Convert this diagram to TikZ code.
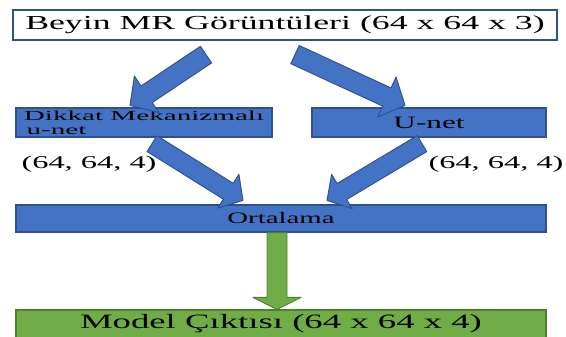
\documentclass[tikz,border=0pt]{standalone}
\usepackage{fontspec}
\setmainfont{Liberation Serif}
\usepackage{graphicx}
\usetikzlibrary{calc}

\definecolor{boxblue}{HTML}{4472C4}
\definecolor{edgeblue}{HTML}{2F528F}
\definecolor{boxgreen}{HTML}{70AD47}
\definecolor{edgegreen}{HTML}{507E32}

% wide text, as in the picture
\newcommand{\wtext}[2]{\fontsize{#1}{#1}\selectfont\scalebox{1.8}[1]{#2}}
% block arrow: style, from, to, shaft half width, head half width, head length
\newcommand{\blockarrow}[6]{%
  \coordinate (hb) at ($(#3)!#6!(#2)$);
  \draw[#1] ($(#2)!#4!90:(#3)$) -- ($(hb)!#4!90:(#3)$) -- ($(hb)!#5!90:(#3)$) -- (#3)
    -- ($(hb)!#5!-90:(#3)$) -- ($(hb)!#4!-90:(#3)$) -- ($(#2)!#4!-90:(#3)$) -- cycle;
}

\tikzset{
  inbox/.style={draw=edgeblue, line width=0.9pt, fill=white, inner sep=0pt},
  netbox/.style={draw=edgeblue, line width=0.9pt, fill=boxblue, inner sep=0pt},
  outbox/.style={draw=edgegreen, line width=0.9pt, fill=boxgreen, inner sep=0pt},
  bluearrow/.style={draw=edgeblue, line width=0.7pt, fill=boxblue, line join=round},
  greenarrow/.style={draw=edgegreen, line width=0.7pt, fill=boxgreen, line join=round},
}

\begin{document}
\begin{tikzpicture}[x=0.75pt,y=0.75pt,yscale=-1,xscale=1]
\useasboundingbox (0,0) rectangle (566,336);
\clip (0,0) rectangle (566,336);

%Shape: Rectangle [input]
\node[inbox, minimum width=408pt, minimum height=22.5pt] (mr) at (285,25)
  {\wtext{14.9}{Beyin MR Görüntüleri (64 x 64 x 3)}};
%Shape: Rectangle [attention u-net]
\node[netbox, minimum width=192pt, minimum height=21.75pt, align=left,
  font=\fontsize{10.4}{10.6}\selectfont] (att) at (144,122.5)
  {\scalebox{2.1}[1]{Dikkat Mekanizmalı}\\\hspace{2pt}\scalebox{2.1}[1]{u-net}};
%Shape: Rectangle [u-net]
\node[netbox, minimum width=175.5pt, minimum height=21.75pt] (unet) at (429,122.5)
  {\wtext{13}{U-net}};
%Shape: Rectangle [average]
\node[netbox, minimum width=397.5pt, minimum height=20.25pt] (avg) at (281,218.5)
  {\wtext{12}{Ortalama}};
%Shape: Rectangle [output]
\node[outbox, minimum width=397.5pt, minimum height=21pt] (out) at (281,324)
  {\wtext{15.3}{Model Çıktısı (64 x 64 x 4)}};

%Block Arrows
\coordinate (a1s) at ($(mr.south)+(-79,14)$);
\coordinate (a1e) at ($(att.north)+(-14,-2)$);
\coordinate (a2s) at ($(mr.south)+(10,14)$);
\coordinate (a2e) at ($(unet.north)+(-24,-2)$);
\coordinate (a3s) at ($(att.south)+(8,6)$);
\coordinate (a3e) at ($(avg.north)+(-38,-4)$);
\coordinate (a4s) at ($(unet.south)+(-7,6)$);
\coordinate (a4e) at ($(avg.north)+(46,-4)$);
\coordinate (a5s) at ($(avg.south)+(-4,0)$);
\coordinate (a5e) at ($(out.north)+(-4,0)$);
\blockarrow{bluearrow}{a1s}{a1e}{7.5pt}{16.5pt}{15pt}
\blockarrow{bluearrow}{a2s}{a2e}{7.5pt}{16.5pt}{15pt}
\blockarrow{bluearrow}{a3s}{a3e}{7pt}{15pt}{13pt}
\blockarrow{bluearrow}{a4s}{a4e}{7pt}{15pt}{13pt}
\blockarrow{greenarrow}{a5s}{a5e}{7.5pt}{18pt}{9pt}

% Text Node
\node (lshape) at (89,164) {\wtext{13.5}{(64, 64, 4)}};
% Text Node
\node (rshape) at (496,164) {\wtext{13.5}{(64, 64, 4)}};

\end{tikzpicture}
\end{document}
